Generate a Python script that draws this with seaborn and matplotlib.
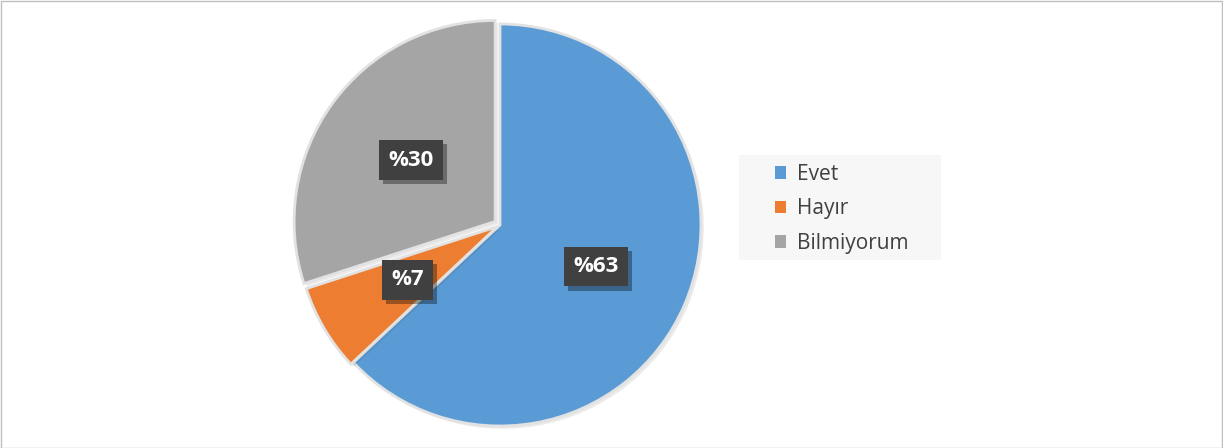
import matplotlib
matplotlib.use("Agg")
import matplotlib.pyplot as plt
import matplotlib.patheffects as pe
from matplotlib.patches import Patch, Rectangle
import seaborn as sns

categories = ["Evet", "Hayır", "Bilmiyorum"]
values = [63, 7, 30]
colors = ["#5b9bd5", "#ed7d31", "#a5a5a5"]
explode = [0, 0.015, 0.03]

sns.set_theme(style="white")
plt.rcParams['font.family'] = ['Open Sans', 'DejaVu Sans']

fig = plt.figure(figsize=(12.23, 4.48), dpi=100)
fig.patch.set_facecolor("white")
W, H = 1223, 448
fig.add_artist(Rectangle((0.5/W, 0.5/H), 1 - 1.5/W, 1 - 1.5/H,
                         transform=fig.transFigure, fill=False,
                         edgecolor="#bfbfbf", linewidth=1))

cx, cy, r = 500, 225, 201
ax = fig.add_axes([(cx - r) / W, (H - cy - r) / H, 2 * r / W, 2 * r / H])

wedges, texts, autotexts = ax.pie(
    values, colors=colors, startangle=90, counterclock=False,
    explode=explode, autopct=lambda p: f"%{p:.0f}", pctdistance=0.52,
    wedgeprops=dict(edgecolor="#e2e2e2", linewidth=2.0),
    textprops=dict(color="white", fontsize=16, fontweight="bold"))
for w in wedges:
    w.set_path_effects([
        pe.withSimplePatchShadow(offset=(2, -2), shadow_rgbFace="black", alpha=0.08)])
ax.set_aspect("equal")
ax.set_xlim(-1.0, 1.0)
ax.set_ylim(-1.0, 1.0)
ax.axis("off")

for t in autotexts:
    t.set_bbox(dict(boxstyle="square,pad=0.42", facecolor="#404040", edgecolor="none"))
    t.get_bbox_patch().set_path_effects([
        pe.withSimplePatchShadow(offset=(3, -3), shadow_rgbFace="black", alpha=0.35)])

# legend background
fig.add_artist(Rectangle((739 / W, 1 - 260 / H), (941 - 739) / W, (260 - 155) / H,
                         transform=fig.transFigure, facecolor="#f7f7f7",
                         edgecolor="none", zorder=0))
handles = [Patch(facecolor=c, edgecolor="none") for c in colors]
leg = fig.legend(handles, categories, loc="upper left",
                 bbox_to_anchor=(775 / W, 1 - 164 / H),
                 frameon=False, fontsize=15, handlelength=0.55, handleheight=0.55,
                 handletextpad=0.5, labelspacing=0.64, borderpad=0,
                 borderaxespad=0)
for txt in leg.get_texts():
    txt.set_color("#404040")

fig.savefig("out.png", dpi=100, facecolor="white")
